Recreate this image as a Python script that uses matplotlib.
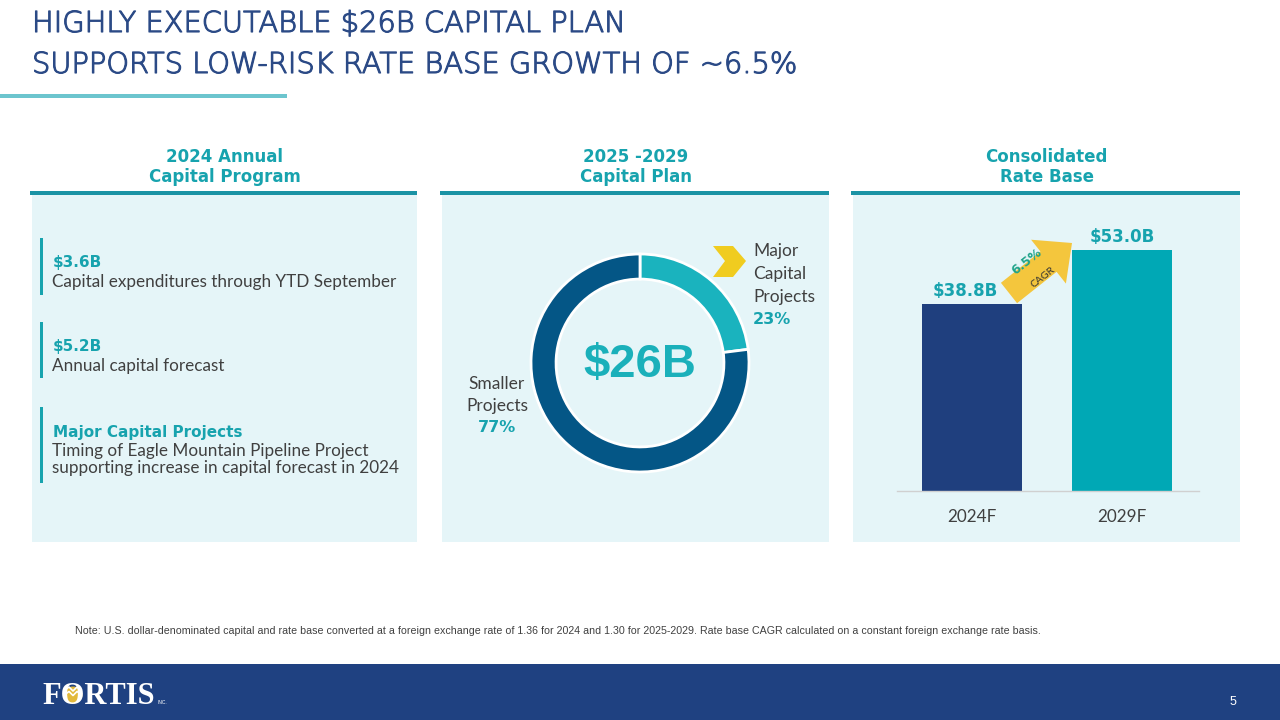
import matplotlib.pyplot as plt
import matplotlib.patches as mpatches
import matplotlib.patheffects as pe

# data
plan_labels = ['Major Capital Projects', 'Smaller Projects']
plan_shares = [23, 77]
plan_total = '$26B'

rate_years = ['2024F', '2029F']
rate_values = [38.8, 53.0]
rate_labels = ['$38.8B', '$53.0B']
cagr = '6.5%'

program_items = [
    ('$3.6B', 'Capital expenditures through YTD September'),
    ('$5.2B', 'Annual capital forecast'),
    ('Major Capital Projects', 'Timing of Eagle Mountain Pipeline Project\nsupporting increase in capital forecast in 2024'),
]

NAVY = '#2B4A86'
TEAL = '#17A3AE'
RULE = '#1A93A5'
PANEL = '#E5F5F8'
GREY = '#404040'
HEAD_FONT = 'DejaVu Sans'
BODY_FONT = 'Lato'

W, H = 1280, 720
fig = plt.figure(figsize=(12.8, 7.2), dpi=100)
fig.patch.set_facecolor('white')

# overlay in pixel coordinates
ov = fig.add_axes([0, 0, 1, 1])
ov.set_xlim(0, W)
ov.set_ylim(H, 0)
ov.axis('off')

def fx(x):
    return x / W

def fy(y):
    return 1 - y / H

# title
thicken = [pe.withStroke(linewidth=0.8, foreground=NAVY)]
ov.text(32, 24, 'HIGHLY EXECUTABLE $26B CAPITAL PLAN', fontsize=20.8, color=NAVY,
        family=HEAD_FONT, fontweight='light', va='center', ha='left', path_effects=thicken)
ov.text(32, 65, 'SUPPORTS LOW-RISK RATE BASE GROWTH OF ~6.5%', fontsize=20.8, color=NAVY,
        family=HEAD_FONT, fontweight='light', va='center', ha='left', path_effects=thicken)
ov.add_patch(mpatches.Rectangle((0, 94), 287, 4, color='#6CC5CE', lw=0))

# panels
panels = [(32, 417, '2024 Annual\nCapital Program'),
          (442, 829, '2025 -2029\nCapital Plan'),
          (853, 1240, 'Consolidated\nRate Base')]
for x0, x1, head in panels:
    ov.add_patch(mpatches.Rectangle((x0, 195), x1 - x0, 347, color=PANEL, lw=0))
    ov.add_patch(mpatches.Rectangle((x0 - 2, 191), x1 - x0 + 2, 3.5, color=RULE, lw=0))
    ov.text((x0 + x1) / 2, 167, head, fontsize=12, fontweight='bold', color=TEAL,
            family=HEAD_FONT, ha='center', va='center', linespacing=1.2)

# left panel items
bars_y = [(238, 295), (322, 378), (407, 483)]
for (head, body), (y0, y1) in zip(program_items, bars_y):
    ov.add_patch(mpatches.Rectangle((40, y0), 3, y1 - y0, color=TEAL, lw=0))
    ov.text(53, y0 + 25, head, fontsize=11, fontweight='bold', color=TEAL,
            family=HEAD_FONT, va='center', ha='left')
    ov.text(52, y0 + 36, body, fontsize=12.3, color=GREY, family=BODY_FONT,
            va='top', ha='left', linespacing=1.08)

# donut
cx, cy, r = 640, 363, 109
dax = fig.add_axes([fx(cx - r), fy(cy + r), 2 * r / W, 2 * r / H])
dax.pie(plan_shares, colors=['#1AB3BE', '#045686'], startangle=90, counterclock=False,
        radius=1, wedgeprops=dict(width=0.23, edgecolor='white', linewidth=2))
dax.set_xlim(-1, 1)
dax.set_ylim(-1, 1)
dax.text(0, -0.02, plan_total, fontsize=34, fontweight='bold', color='#1AB0BA',
         family='Liberation Sans', ha='center', va='center')

# chevron
ov.add_patch(mpatches.Polygon([(713, 246), (733, 246), (746, 261), (733, 277),
                               (713, 277), (725, 261)], closed=True,
                              color='#F0CC1F', lw=0))
for i, word in enumerate(['Major', 'Capital', 'Projects']):
    ov.text(753, 251 + i * 23, word, fontsize=12.5, color=GREY, family=BODY_FONT,
            ha='left', va='center')
ov.text(753, 319, f'{plan_shares[0]}%', fontsize=11.5, fontweight='bold', color=TEAL,
        family=HEAD_FONT, ha='left', va='center')
for i, word in enumerate(['Smaller', 'Projects']):
    ov.text(497, 384 + i * 22, word, fontsize=12.5, color=GREY, family=BODY_FONT,
            ha='center', va='center')
ov.text(497, 428, f'{plan_shares[1]}%', fontsize=11.5, fontweight='bold', color=TEAL,
        family=HEAD_FONT, ha='center', va='center')

# rate base bars
base = -10.3
bx0, bx1, by_base, by_top = 897, 1199, 491, 230
bax = fig.add_axes([fx(bx0), fy(by_base), (bx1 - bx0) / W, (by_base - by_top) / H])
bax.patch.set_alpha(0)
xs = range(len(rate_values))
heights = [v - base for v in rate_values]
bax.bar(xs, heights, bottom=base, width=0.667, color=['#1F3F7E', '#00A8B5'])
bax.set_xlim(-0.5, 1.513)
bax.set_ylim(base, base + (by_base - by_top) / 3.81)
for i, (v, lab) in enumerate(zip(rate_values, rate_labels)):
    bax.annotate(lab, (i, v), xytext=(-5 if i == 0 else 0, 3), textcoords='offset points',
                 ha='center', va='bottom', fontsize=12, fontweight='bold', color=TEAL,
                 family=HEAD_FONT)
bax.set_xticks(list(xs))
bax.set_xticklabels(rate_years, fontsize=12.3, color=GREY, family=BODY_FONT)
bax.tick_params(axis='x', length=0, pad=13)
bax.set_yticks([])
for s in ['top', 'right', 'left']:
    bax.spines[s].set_visible(False)
bax.spines['bottom'].set_color('#D0D0D0')
bax.spines['bottom'].set_linewidth(1)

# CAGR arrow
ov.add_patch(mpatches.FancyArrow(1009, 293, 63, -50, width=26, head_width=56,
                                 head_length=30, length_includes_head=True,
                                 color='#F4C63D', lw=0))
ov.text(1027, 262, cagr, fontsize=9, fontweight='bold', color='#1EA38A', rotation=38,
        family=HEAD_FONT, ha='center', va='center')
ov.text(1043, 277, 'CAGR', fontsize=7.5, color='#333333', rotation=38,
        family=BODY_FONT, ha='center', va='center')

# note
ov.text(75, 631, 'Note: U.S. dollar-denominated capital and rate base converted at a foreign exchange rate '
        'of 1.36 for 2024 and 1.30 for 2025-2029. Rate base CAGR calculated on a constant foreign '
        'exchange rate basis.', fontsize=7.7, color=GREY, family='Liberation Sans',
        ha='left', va='center')

# footer
ov.add_patch(mpatches.Rectangle((0, 664), W, 56, color='#1F4181', lw=0))
ov.text(42, 696, 'FORTIS', fontsize=22, fontweight='bold', color='white',
        family='Liberation Serif', ha='left', va='center')
ov.add_patch(mpatches.Ellipse((73, 695), 19, 17, color='#E2B93B', lw=0))
for dy in (-3, 1.5):
    ov.plot([65, 69, 73, 77, 81], [693 + dy, 690 + dy, 694 + dy, 690 + dy, 693 + dy],
            color='white', lw=1.2)
ov.text(157, 703, 'INC.', fontsize=3.5, color='white', family='Liberation Sans',
        ha='left', va='center')
ov.text(1233, 702, '5', fontsize=9, color='white', family='Liberation Sans',
        ha='center', va='center')

fig.savefig('out.png', dpi=100)
